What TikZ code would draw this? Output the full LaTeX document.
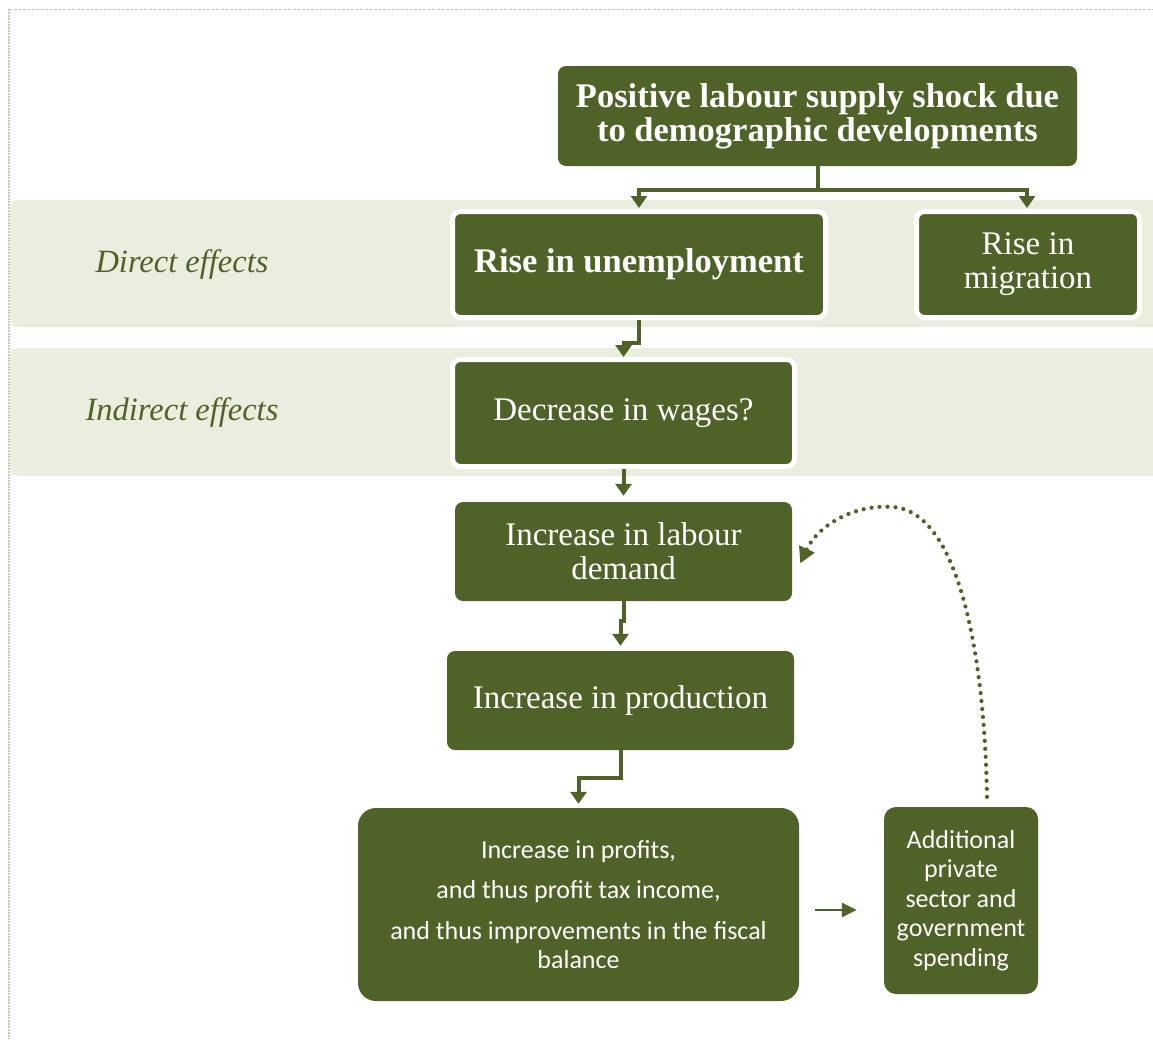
\documentclass[tikz,border=0pt]{standalone}
\usepackage{fontspec}
\setmainfont{Liberation Serif}
\newfontfamily\sansf{Carlito}
\usetikzlibrary{arrows.meta,calc}
\definecolor{olive}{HTML}{4F6228}
\definecolor{band}{HTML}{EBEEDE}
\definecolor{frame}{HTML}{C6C9B6}
\begin{document}
\begin{tikzpicture}[x=1pt,y=-1pt,
  box/.style={fill=olive,text=white,rounded corners=8pt,align=center,inner sep=0pt,
    font=\fontsize{33}{34}\selectfont},
  bfont/.style={font=\bfseries\fontsize{34.5}{34}\selectfont},
  wbox/.style={box,draw=white,line width=5pt},
  lab/.style={text=olive,font=\fontsize{32.5}{34}\selectfont\itshape},
  conn/.style={draw=olive,line width=4pt,-{Triangle[length=12pt,width=16pt]}},
  thinconn/.style={draw=olive,line width=2.5pt,-{Triangle[length=15pt,width=14pt]}},
  dotconn/.style={draw=olive,line width=4.2pt,line cap=round,dash pattern=on 0pt off 8pt,
    -{Triangle[length=16pt,width=16pt]}},
  sbox/.style={fill=olive,text=white,align=center,inner sep=0pt,
    font=\sansf\fontsize{26}{29.5}\selectfont}
]
\useasboundingbox (0,0) rectangle (1153,1039);
% frame
\draw[frame,line width=1pt,dash pattern=on 3pt off 1.5pt] (9,9) -- (1153,9);
\draw[frame,line width=2pt,dash pattern=on 2pt off 1pt] (9,9) -- (9,1039);
% bands
\fill[band,rounded corners=8pt] (10,200) rectangle (1170,327);
\fill[band,rounded corners=8pt] (10,348) rectangle (1170,476);
% labels
\node[lab] (dlab) at (182,265) {Direct effects};
\node[lab] (ilab) at (182,413) {Indirect effects};
% boxes
\node[box,bfont,minimum width=519pt,minimum height=100pt]
  (top) at (817.5,116) {Positive labour supply shock due\\to demographic developments};
\node[wbox,bfont,minimum width=373pt,minimum height=106pt]
  (unemp) at (639,264.5) {Rise in unemployment};
\node[wbox,minimum width=223pt,minimum height=106pt] (migr) at (1028,264.5) {Rise in\\migration};
\node[wbox,minimum width=342pt,minimum height=107pt] (wages) at (623.5,413) {Decrease in wages?};
\node[box,minimum width=337pt,minimum height=99pt] (labour) at (623.5,551.5) {Increase in labour\\demand};
\node[box,minimum width=347pt,minimum height=99pt] (prod) at (620.5,700.5) {Increase in production};
\node[sbox,rounded corners=18pt,minimum width=441pt,minimum height=193pt] (profits) at (578.5,904.5)
  {Increase in profits,\\[11pt]and thus profit tax income,\\[11pt]and thus improvements in the fiscal\\balance};
\node[sbox,rounded corners=12pt,minimum width=154pt,minimum height=187pt] (add) at (961,900.5)
  {Additional\\private\\sector and\\government\\spending};
% connectors
\draw[conn] (top.south) -- ++(0,24) coordinate (split) -| ([yshift=1pt]unemp.north);
\draw[conn] (split) -| ([xshift=-1pt,yshift=1pt]migr.north);
\draw[conn] (unemp.south) -- ++(0,23) -| ([yshift=0pt]wages.north);
\draw[conn,shorten >=6pt] (wages.south) -- (labour.north);
\draw[conn,shorten >=5pt] (labour.south) -- ++(0,20) -| (prod.north);
\draw[conn,shorten >=4pt] (prod.south) -- ++(0,28) -| (profits.north);
\draw[thinconn,shorten <=16pt,shorten >=27pt] ([yshift=-5.5pt]profits.east) -- ([yshift=-9.5pt]add.west);
\coordinate (peak) at (892,507);
\draw[dotconn] ([xshift=26pt,yshift=10pt]add.north) .. controls (984,640) and (955,510) .. (peak)
  .. controls (855,504) and (818,525) .. ([xshift=8pt,yshift=-12pt]labour.east);
\end{tikzpicture}
\end{document}
